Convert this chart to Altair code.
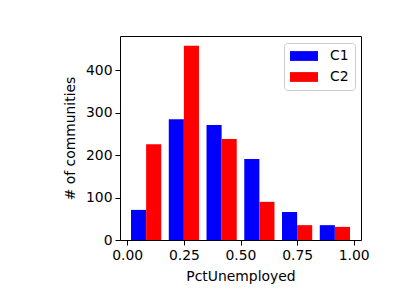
import altair as alt
import pandas as pd

series = ["C1", "C2"]
bin_starts = [0.0, 1/6, 2/6, 3/6, 4/6, 5/6]
c1_counts = [71, 285, 271, 191, 66, 35]
c2_counts = [226, 458, 238, 90, 35, 31]
x_ticks = [0.0, 0.25, 0.5, 0.75, 1.0]
y_ticks = [0, 100, 200, 300, 400]

w = 1/6
rows = []
for i, b in enumerate(bin_starts):
    rows.append({"series": "C1", "x0": b + 0.1 * w, "x1": b + 0.5 * w, "count": c1_counts[i]})
    rows.append({"series": "C2", "x0": b + 0.5 * w, "x1": b + 0.9 * w, "count": c2_counts[i]})
df = pd.DataFrame(rows)

FONT = "DejaVu Sans"
rect_path = "M-1,-0.7L3,-0.7L3,0.7L-1,0.7Z"

chart = alt.Chart(df).mark_rect().encode(
    x=alt.X("x0:Q", scale=alt.Scale(domain=[-0.032, 1.032], nice=False, zero=False),
            axis=alt.Axis(values=x_ticks, format=".2f", title="PctUnemployed", grid=False,
                          tickSize=5, tickColor="black", domain=False, labelColor="black",
                          labelFont=FONT, labelFontSize=13.9, titleFont=FONT, titleFontSize=13.9,
                          titleFontWeight="normal", titleColor="black", labelPadding=3, titlePadding=8,
                          labelFlush=False)),
    x2="x1:Q",
    y=alt.Y("count:Q", scale=alt.Scale(domain=[0, 481], nice=False),
            axis=alt.Axis(values=y_ticks, title="# of communities", grid=False,
                          tickSize=5, tickColor="black", domain=False, labelColor="black",
                          labelFont=FONT, labelFontSize=13.9, titleFont=FONT, titleFontSize=13.9,
                          titleFontWeight="normal", titleColor="black", labelPadding=3, titlePadding=8,
                          labelFlush=False)),
    y2=alt.datum(0),
    color=alt.Color("series:N", scale=alt.Scale(domain=series, range=["#0000ff", "#ff0000"]),
                    legend=alt.Legend(title=None, orient="none", legendX=164, legendY=7,
                                      symbolType=rect_path, symbolSize=196, symbolStrokeWidth=0,
                                      symbolOpacity=1, labelFont=FONT, labelFontSize=13.9,
                                      labelColor="black", labelOffset=26, rowPadding=7,
                                      padding=6, fillColor="white", strokeColor="#cccccc",
                                      cornerRadius=3)),
).properties(
    width=241, height=204,
    padding={"left": 112, "top": 28, "right": 31, "bottom": 52},
    autosize=alt.AutoSizeParams(type="none"),
).configure_view(stroke="black", strokeWidth=1)

chart.save("out.html", embed_options={"renderer": "svg", "actions": False})
